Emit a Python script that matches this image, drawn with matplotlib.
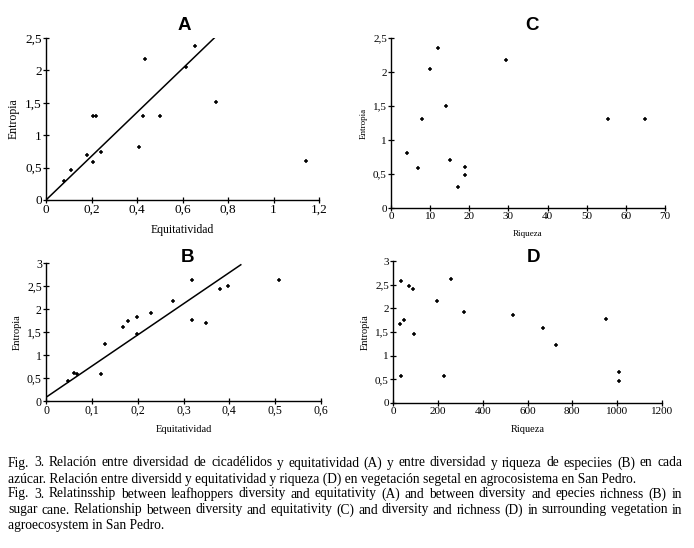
import numpy as np
import matplotlib
matplotlib.use('Agg')
import matplotlib.pyplot as plt
from matplotlib.ticker import FuncFormatter

# Panel A: entropia vs equitatividad (cana)
a_x = [0.079, 0.108, 0.179, 0.208, 0.208, 0.220, 0.240, 0.410, 0.428, 0.437,
       0.500, 0.615, 0.656, 0.747, 1.143]
a_y = [0.30, 0.47, 0.70, 0.59, 1.29, 1.29, 0.74, 0.82, 1.30, 2.18,
       1.30, 2.06, 2.37, 1.52, 0.60]
a_fit = [0.0, 0.74]          # x range of the regression line
a_coef = [3.38, 0.0]         # slope, intercept

# Panel B: entropia vs equitatividad
b_x = [0.049, 0.060, 0.068, 0.119, 0.129, 0.169, 0.179, 0.198, 0.198, 0.229,
       0.277, 0.319, 0.319, 0.350, 0.379, 0.398, 0.508]
b_y = [0.43, 0.61, 0.59, 0.58, 1.23, 1.60, 1.75, 1.83, 1.45, 1.92,
       2.18, 2.62, 1.77, 1.70, 2.44, 2.49, 2.62]
b_fit = [0.0, 0.425]
b_coef = [6.78, 0.08]

# Panel C: entropia vs riqueza
c_x = [4.2, 7.0, 8.0, 10.0, 11.9, 14.0, 15.1, 17.0, 19.0, 19.0, 29.5, 55.5, 64.8]
c_y = [0.81, 0.59, 1.31, 2.05, 2.35, 1.50, 0.71, 0.31, 0.60, 0.49, 2.18, 1.31, 1.31]

# Panel D: entropia vs riqueza
d_x = [34, 30, 49, 34, 71, 89, 94, 196, 228, 260, 315, 535, 668, 726, 952, 1010, 1010]
d_y = [2.58, 1.66, 1.76, 0.58, 2.47, 2.41, 1.45, 2.16, 0.58, 2.62, 1.93, 1.85,
       1.59, 1.23, 1.77, 0.65, 0.47]

caption = [
    "Fig. 3. Relación entre diversidad de cicadélidos y equitatividad (A) y entre diversidad y riqueza de especiies (B) en cada",
    "azúcar. Relación entre diversidd y equitatividad y riqueza (D) en vegetación segetal en agrocosistema en San Pedro.",
    "Fig. 3. Relatinsship between leafhoppers diversity and equitativity (A) and between diversity and epecies richness (B) in",
    "sugar cane. Relationship between diversity and equitativity (C) and diversity and richness (D) in surrounding vegetation in",
    "agroecosystem in San Pedro.",
]
justify = [True, False, True, True, False]

W, H = 694, 548
plt.rcParams['font.family'] = ['Liberation Serif', 'DejaVu Serif']

fig = plt.figure(figsize=(W / 100, H / 100), dpi=100)


def px_axes(x0, y0, x1, y1):
    # pixel box (top-left origin) -> figure fraction
    return fig.add_axes([x0 / W, 1 - y1 / H, (x1 - x0) / W, (y1 - y0) / H])


comma = FuncFormatter(lambda v, p: ('%g' % v).replace('.', ','))


def style(ax, xlim, ylim, xstep, ystep, xlab, ylab, title, tfs, lfs, tx, ty):
    ax.set_xlim(*xlim)
    ax.set_ylim(*ylim)
    ax.set_xticks(np.arange(xlim[0], xlim[1] + xstep / 2, xstep))
    ax.set_yticks(np.arange(ylim[0], ylim[1] + ystep / 2, ystep))
    ax.xaxis.set_major_formatter(comma)
    ax.yaxis.set_major_formatter(comma)
    for s in ['top', 'right']:
        ax.spines[s].set_visible(False)
    for s in ['left', 'bottom']:
        ax.spines[s].set_linewidth(1.0)
    ax.tick_params(direction='inout', length=4, width=0.9, labelsize=tfs, pad=1)
    ax.set_xlabel(xlab, fontsize=lfs, labelpad=6)
    ax.set_ylabel(ylab, fontsize=lfs, labelpad=4)
    ax.patch.set_visible(False)
    fig.text(tx / W, 1 - ty / H, title, family='Liberation Sans', weight='bold',
             fontsize=13.5, ha='center', va='center')


mk = dict(marker='+', s=10, c='black', linewidths=1.1, clip_on=False)

# A
axA = px_axes(46, 38, 319, 200)
axA.scatter(a_x, a_y, **mk)
xa = np.array(a_fit)
axA.plot(xa, a_coef[0] * xa + a_coef[1], color='black', lw=1.1)
style(axA, (0, 1.2), (0, 2.5), 0.2, 0.5, 'Equitatividad', 'Entropia', 'A',
      9.5, 8.5, 184, 25)

# B
axB = px_axes(46, 263, 321, 401)
axB.scatter(b_x, b_y, **mk)
xb = np.array(b_fit)
axB.plot(xb, b_coef[0] * xb + b_coef[1], color='black', lw=1.1)
style(axB, (0, 0.6), (0, 3), 0.1, 0.5, 'Equitatividad', 'Entropia', 'B',
      8.5, 7.5, 187, 258)

# C
axC = px_axes(391, 38, 665, 208)
axC.scatter(c_x, c_y, **mk)
style(axC, (0, 70), (0, 2.5), 10, 0.5, 'Riqueza', 'Entropia', 'C',
      8, 6.5, 532, 25)

# D
axD = px_axes(393, 261, 662, 403)
axD.scatter(d_x, d_y, **mk)
style(axD, (0, 1200), (0, 3), 200, 0.5, 'Riqueza', 'Entropía', 'D',
      8, 7.5, 533, 258)

# caption, justified lines spread word by word between x0 and x1
x0, x1 = 8, 682
ys = [463, 479, 494, 510, 526]
cap_fs = 9.75
renderer = fig.canvas.get_renderer()
for line, y, just in zip(caption, ys, justify):
    if not just:
        fig.text(x0 / W, 1 - y / H, line, fontsize=cap_fs, ha='left', va='center')
        continue
    words = line.split(' ')
    texts = [fig.text(0, 1 - y / H, w, fontsize=cap_fs, ha='left', va='center')
             for w in words]
    widths = [t.get_window_extent(renderer).width for t in texts]
    gap = (x1 - x0 - sum(widths)) / (len(words) - 1)
    xpos = x0
    for t, wd in zip(texts, widths):
        t.set_x(xpos / W)
        xpos += wd + gap

fig.savefig('out.png', dpi=100)
